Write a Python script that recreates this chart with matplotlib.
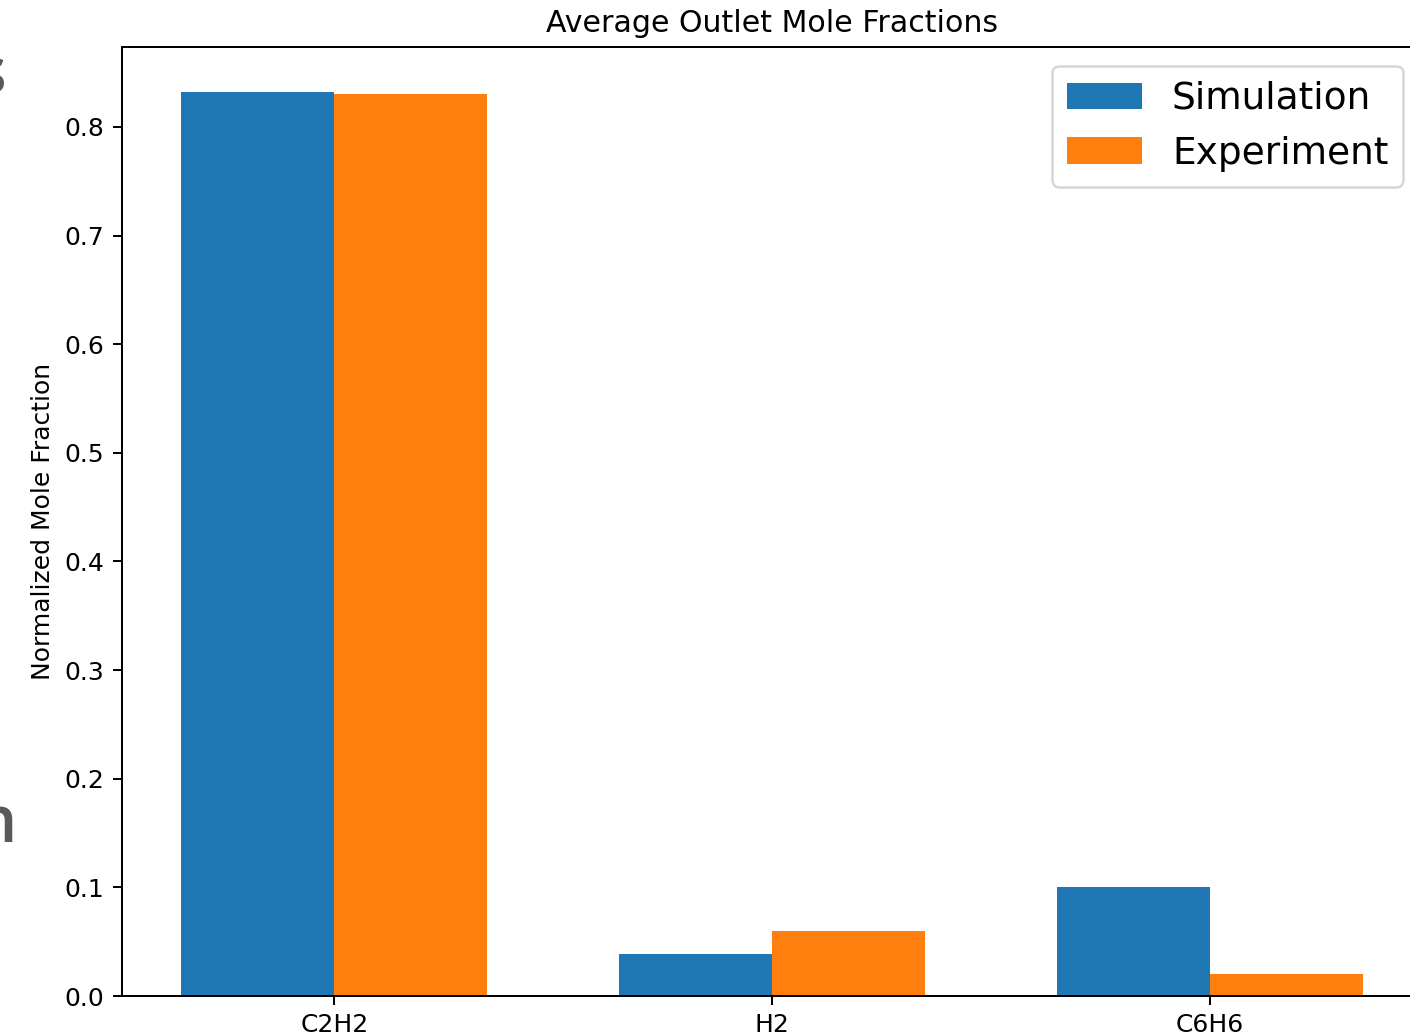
import matplotlib.pyplot as plt
import numpy as np

species = ['C2H2', 'H2', 'C6H6']
simulation = [0.832, 0.039, 0.100]
experiment = [0.830, 0.060, 0.020]

x = np.arange(len(species))
width = 0.35

fig = plt.figure(figsize=(1410/180, 1035/180), dpi=180)
# axes run a little past the right edge of the canvas
ax = fig.add_axes([122/1410, 39/1035, 1300/1410, 949/1035])

ax.bar(x - width/2, simulation, width, label='Simulation')
ax.bar(x + width/2, experiment, width, label='Experiment')

ax.set_xticks(x)
ax.set_xticklabels(species)
ax.set_ylabel('Normalized Mole Fraction')
ax.set_title('Average Outlet Mole Fractions')
ax.legend(fontsize=15, loc='upper right')

# slide text peeking in from the left
fig.text(7/1410, 1 - 93/1035, 's', ha='right', va='baseline', fontsize=26,
         family='Open Sans', weight='semibold', color='#5a5a5a')
fig.text(17/1410, 1 - 842/1035, 'n', ha='right', va='baseline', fontsize=26,
         family='Open Sans', weight='semibold', color='#5a5a5a')

fig.savefig('out.png', dpi=180)
